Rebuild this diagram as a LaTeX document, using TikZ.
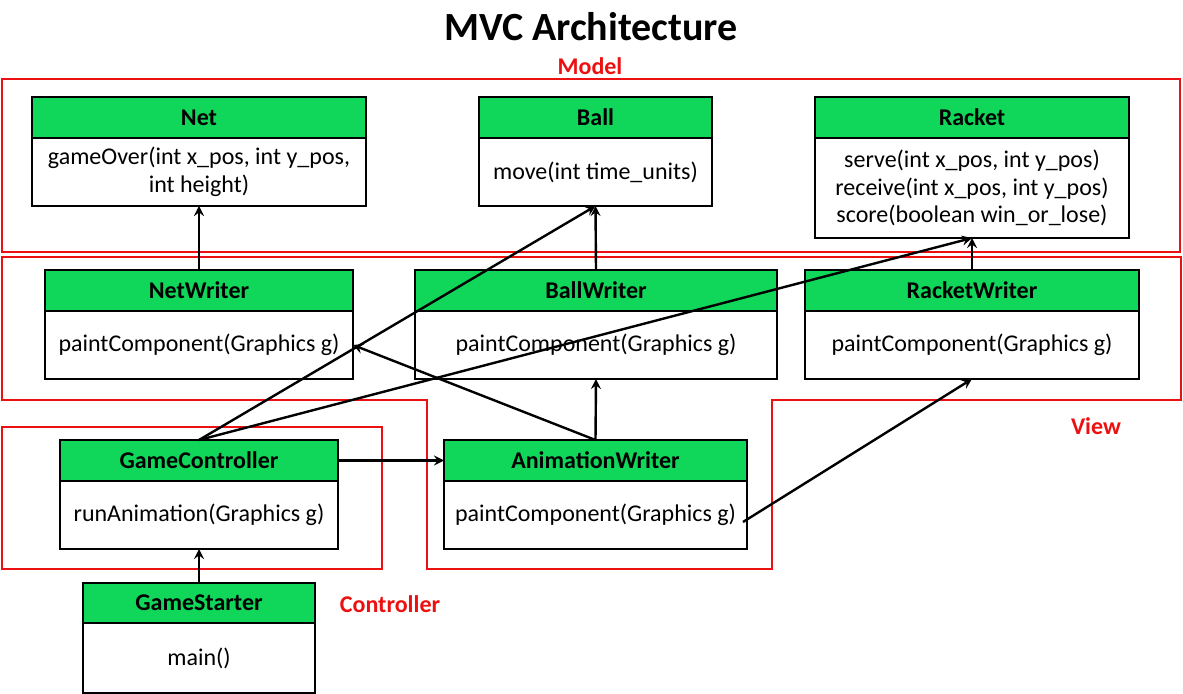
\documentclass[tikz,border=0pt]{standalone}
\usepackage{fontspec}
\setmainfont{Carlito}
\usepackage{xcolor}
\definecolor{headgreen}{RGB}{16,214,90}
\definecolor{framered}{RGB}{236,16,16}

\tikzset{
	classhead/.style={draw,line width=0.9pt,fill=headgreen,inner sep=0pt,outer sep=0pt,
		font=\bfseries\fontsize{12}{14.5}\selectfont},
	classbody/.style={draw,line width=0.9pt,fill=white,align=center,inner sep=0pt,outer sep=0pt,
		font=\fontsize{12}{13.8}\selectfont},
	frame/.style={draw=framered,line width=0.8pt},
	framelabel/.style={text=framered,font=\bfseries\fontsize{12}{14}\selectfont},
	link/.style={-stealth,line width=1.2pt}
}

% id, left, right, top, header bottom, bottom, name, methods
\newcommand{\classbox}[8]{%
	\node[classhead,minimum width={(#3-#2)*0.5pt},minimum height={(#5-#4)*0.5pt}] (#1) at ({(#2+#3)/2},{(#4+#5)/2}) {#7};
	\node[classbody,minimum width={(#3-#2)*0.5pt},minimum height={(#6-#5)*0.5pt}] (#1-b) at ({(#2+#3)/2},{(#5+#6)/2}) {#8};
}

\begin{document}
\begin{tikzpicture}[x=0.5pt,y=-0.5pt]
		\useasboundingbox (0,0) rectangle (1183,694);
		\node[font=\bfseries\fontsize{20}{24}\selectfont] (title) at (591,27) {MVC Architecture};
		% regions
		\draw[frame] (2,79) rectangle (1180,252);
		\draw[frame] (2,257) -- (1181,257) -- (1181,400) -- (772,400) -- (772,569) -- (427,569) -- (427,400) -- (2,400) -- cycle;
		\draw[frame] (2,427) rectangle (382,569);
		\node[framelabel] (model) at (590,66) {Model};
		\node[framelabel] (view) at (1096,426) {View};
		\node[framelabel] (control) at (390,604) {Controller};
		% classes
		\classbox{net}{32}{366}{97}{138}{206}{Net}{gameOver(int x\_pos, int y\_pos,\\int height)}
		\classbox{ball}{479}{712}{97}{138}{206}{Ball}{move(int time\_units)}
		\classbox{racket}{815}{1129}{97}{138}{238}{Racket}{serve(int x\_pos, int y\_pos)\\receive(int x\_pos, int y\_pos)\\score(boolean win\_or\_lose)}
		\classbox{netw}{45}{353}{270}{311}{379}{NetWriter}{paintComponent(Graphics g)}
		\classbox{ballw}{415}{777}{270}{311}{379}{BallWriter}{paintComponent(Graphics g)}
		\classbox{racketw}{805}{1139}{270}{311}{379}{RacketWriter}{paintComponent(Graphics g)}
		\classbox{gc}{60}{338}{440}{481}{549}{GameController}{runAnimation(Graphics g)}
		\classbox{anw}{444}{747}{440}{481}{549}{AnimationWriter}{paintComponent(Graphics g)}
		\classbox{gs}{83}{315}{583}{623}{693}{GameStarter}{main()}
		% links
		\draw[link] (netw.north) -- (net-b.south);
		\draw[link] (ballw.north) -- (ball-b.south);
		\draw[link] (racketw.north) -- (racket-b.south);
		\draw[link] (gc.north) -- (ball-b.south);
		\draw[link] (gc.north) -- (racket-b.south);
		\draw[link] (anw.north) -- (netw-b.east);
		\draw[link] (anw.north) -- (ballw-b.south);
		\draw[link] (gc.east) -- (anw.west);
		\coordinate (anwout) at ([shift={(-4,7)}]anw-b.east);
		\draw[link] (anwout) -- (racketw-b.south);
		\draw[link] (gs.north) -- (gc-b.south);
\end{tikzpicture}
\end{document}
